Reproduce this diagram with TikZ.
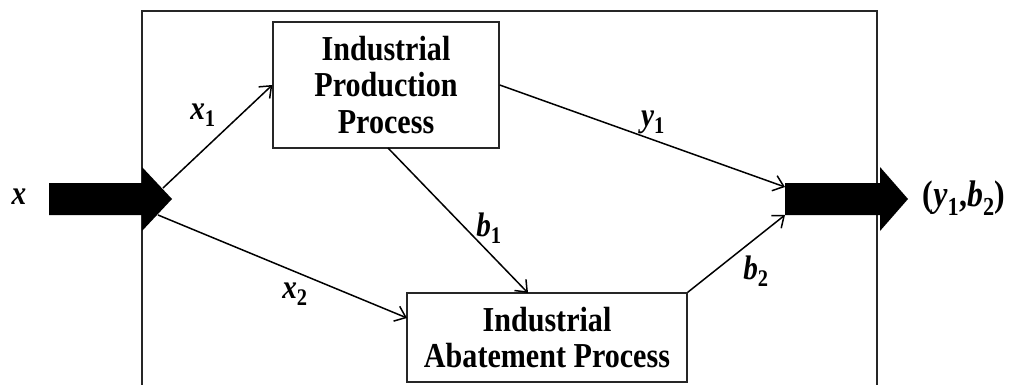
\documentclass[tikz,border=0pt]{standalone}
\usepackage{fontspec}
\setmainfont{Liberation Serif}
\newfontfamily\tallfont[FakeStretch=0.86]{Liberation Serif}
\usetikzlibrary{arrows.meta}
\tikzset{
  procbox/.style={draw=black!85, line width=1.4pt, inner sep=0pt, align=center,
    font=\tallfont\fontsize{35}{36.7}\selectfont\bfseries},
  flow/.style={line width=1.5pt, -{Straight Barb[length=10pt,width=16pt,line width=1.5pt]}},
  lbl/.style={font=\tallfont\fontsize{34}{36}\selectfont\bfseries\itshape, inner sep=0pt},
  bigarrow/.style={fill=black, draw=none},
  frame/.style={draw=black!85, line width=1.4pt}
}
\begin{document}
\begin{tikzpicture}[x=1pt,y=-1pt]
\useasboundingbox (0,0) rectangle (1011,385);
% frame
\draw[frame] (142,386) -- (142,11) -- (877,11) -- (877,386);
% big arrows
\fill[bigarrow] (49,183) -- (142,183) -- (142,167) -- (172,199) -- (142,231) -- (142,215) -- (49,215) -- cycle;
\fill[bigarrow] (785,183) -- (880,183) -- (880,167) -- (908,199) -- (880,231) -- (880,215) -- (785,215) -- cycle;
% boxes
\node[procbox, minimum width=226pt, minimum height=126pt] (P) at (386,85) {Industrial\\Production\\Process};
\node[procbox, minimum width=280pt, minimum height=89pt] (A) at (547,337.5) {Industrial\\Abatement Process};
% anchor coordinates
\coordinate (inUp) at (163,188);
\coordinate (inDown) at (158,215);
\coordinate (outUp) at (785,187);
\coordinate (outDown) at (785,215);
\coordinate (Ain) at (407,318);
\coordinate (Atop) at (528,293);
\coordinate (Pbot) at (388,148);
% connectors
\draw[flow] (inUp) -- (P.west);
\draw[flow] (inDown) -- (Ain);
\draw[flow] (P.east) -- (outUp);
\draw[flow] (Pbot) -- (Atop);
\draw[flow] (A.north east) -- (outDown);
% labels
\node[lbl] (lx) at (19,197) {x};
\node[lbl, font=\tallfont\fontsize{37}{38}\selectfont\bfseries] (lout) at (964,198) {(\textit{y}\textsubscript{1},\textit{b}\textsubscript{2})};
\node[lbl] (lx1) at (203,115) {x\textsubscript{\upshape 1}};
\node[lbl] (ly1) at (653,122) {y\textsubscript{\upshape 1}};
\node[lbl] (lb1) at (489,228) {b\textsubscript{\upshape 1}};
\node[lbl] (lx2) at (295,294) {x\textsubscript{\upshape 2}};
\node[lbl] (lb2) at (756,271) {b\textsubscript{\upshape 2}};
\end{tikzpicture}
\end{document}
